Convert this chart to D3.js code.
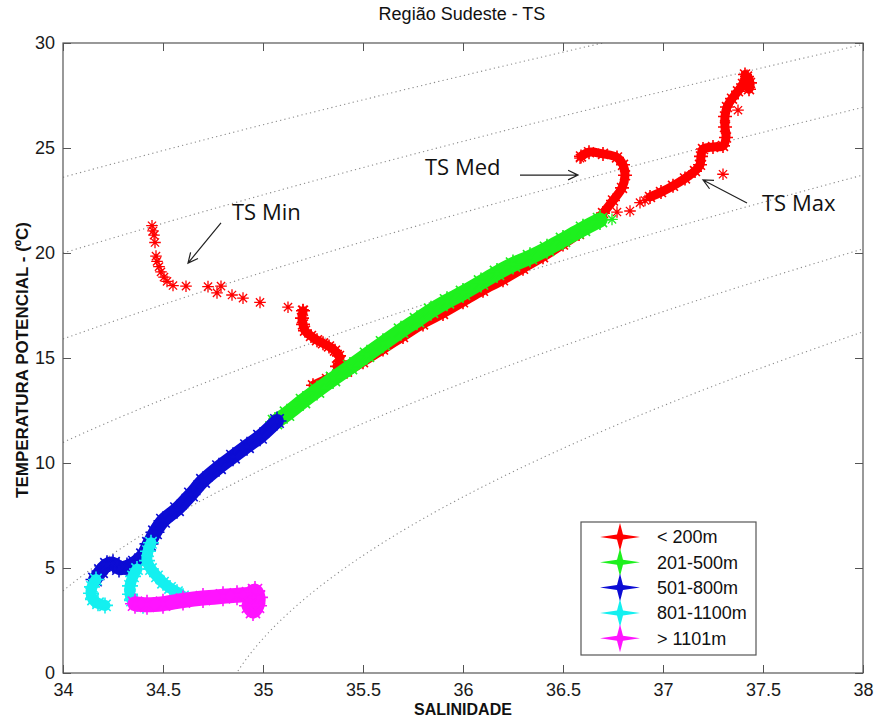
<!DOCTYPE html>
<html>
<head>
<meta charset="utf-8">
<script src="https://cdn.jsdelivr.net/npm/d3@7/dist/d3.min.js"></script>
<style>
  html, body { margin: 0; padding: 0; background: #fff; }
  svg { display: block; }
</style>
</head>
<body>
<svg id="chart" width="877" height="720"></svg>
<script>
// ---- Data: salinity / potential temperature pairs per depth class ----
const depthLabels = ["< 200m", "201-500m", "501-800m", "801-1100m", "> 1101m"];
const salTicks = [34, 34.5, 35, 35.5, 36, 36.5, 37, 37.5, 38];
const salTickLabels = ["34", "34.5", "35", "35.5", "36", "36.5", "37", "37.5", "38"];
const tempTicks = [0, 5, 10, 15, 20, 25, 30];
const tempTickLabels = ["0", "5", "10", "15", "20", "25", "30"];
const isopycnalLevels = [23, 24, 25, 26, 27, 28];

// < 200 m : dense profiles
const shallowMed = [[35.25,13.7],[35.32,14.0],[35.42,14.35],[35.5,14.8],[35.6,15.4],[35.7,16.0],[35.8,16.6],[35.9,17.1],[36.0,17.65],[36.1,18.2],[36.2,18.7],[36.3,19.25],[36.4,19.8],[36.5,20.4],[36.58,20.9],[36.65,21.4],[36.7,21.9],[36.75,22.5],[36.795,23.1],[36.81,23.7],[36.8,24.2],[36.77,24.55],[36.7,24.72],[36.63,24.8],[36.59,24.6]];
const shallowMinDeep = [[35.2,17.25],[35.195,16.9],[35.2,16.6],[35.21,16.3],[35.24,16.05],[35.27,15.85],[35.3,15.7],[35.33,15.55],[35.36,15.35],[35.38,15.1],[35.385,14.85],[35.37,14.6]];
const shallowMax = [[36.935,22.67],[36.99,22.9],[37.05,23.2],[37.11,23.55],[37.16,23.9],[37.185,24.2],[37.19,24.6],[37.2,24.95],[37.25,25.05],[37.3,25.1],[37.315,25.5],[37.31,26.0],[37.31,26.5],[37.32,26.95],[37.345,27.35],[37.375,27.7],[37.4,28.05],[37.42,28.4],[37.435,28.1],[37.43,27.8],[37.41,28.5]];
// < 200 m : isolated observations
const shallowSparse = [[34.445,21.3],[34.45,21.05],[34.455,20.85],[34.46,20.5],[34.465,19.85],[34.47,19.6],[34.48,19.35],[34.49,19.1],[34.505,18.85],[34.52,18.65],[34.55,18.45],[34.615,18.42],[34.725,18.4],[34.77,18.1],[34.79,18.42],[34.845,18.0],[34.9,17.85],[34.985,17.65],[35.125,17.42],[35.2,17.3],[36.585,24.52],[36.77,21.95],[36.835,22.0],[36.885,22.4],[36.91,22.5],[37.3,23.75],[37.375,26.8]];

// 201-500 m
const upperGreen = [[35.06,11.95],[35.12,12.35],[35.2,12.95],[35.27,13.45],[35.35,14.0],[35.435,14.57],[35.52,15.15],[35.6,15.7],[35.69,16.3],[35.77,16.8],[35.84,17.25],[35.92,17.7],[36.0,18.1],[36.09,18.6],[36.17,19.05],[36.25,19.45],[36.335,19.8],[36.42,20.2],[36.5,20.62],[36.6,21.15],[36.685,21.57]];
const upperSparse = [[36.745,21.6]];

// 501-800 m
const midBlue = [[34.16,4.45],[34.19,4.85],[34.22,5.15],[34.25,5.2],[34.28,5.0],[34.32,5.05],[34.36,5.25],[34.4,5.6],[34.43,6.15],[34.46,6.7],[34.5,7.25],[34.57,7.8],[34.64,8.5],[34.7,9.15],[34.78,9.8],[34.85,10.3],[34.92,10.8],[34.985,11.25],[35.07,12.0]];

// 801-1100 m
const deepHookA = [[34.165,4.45],[34.145,4.1],[34.14,3.8],[34.15,3.5],[34.175,3.32],[34.21,3.22]];
const deepHookB = [[34.37,4.95],[34.35,4.6],[34.335,4.15],[34.335,3.75],[34.345,3.45],[34.37,3.28],[34.4,3.2]];
const deepHookC = [[34.44,6.2],[34.425,5.8],[34.42,5.35],[34.44,4.95],[34.47,4.6],[34.5,4.3],[34.535,4.05],[34.57,3.85],[34.6,3.65]];

// > 1101 m
const abyssPink = [[34.36,3.3],[34.42,3.25],[34.5,3.3],[34.6,3.45],[34.7,3.57],[34.8,3.65],[34.87,3.7],[34.93,3.75],[34.96,3.9],[34.975,3.6],[34.97,3.2],[34.95,2.95],[34.93,3.2]];

// ---- Series table ----
const series = [
  { label: depthLabels[0], color: "#ff0000", band: 9,  profiles: [shallowMed, shallowMinDeep, shallowMax], single: shallowSparse },
  { label: depthLabels[1], color: "#1ef01e", band: 15, profiles: [upperGreen], single: upperSparse },
  { label: depthLabels[2], color: "#0c0cd4", band: 14, profiles: [midBlue], single: [] },
  { label: depthLabels[3], color: "#14f0f0", band: 11, profiles: [deepHookA, deepHookB, deepHookC], single: [] },
  { label: depthLabels[4], color: "#ff14ff", band: 15, profiles: [abyssPink], single: [] }
];

// ---- Layout ----
const svg = d3.select("#chart");
const plot = { left: 63, top: 43, right: 863, bottom: 673 };
const x = d3.scaleLinear().domain([34, 38]).range([plot.left, plot.right]);
const y = d3.scaleLinear().domain([0, 30]).range([plot.bottom, plot.top]);
const FONT = "'Liberation Sans', Arial, Helvetica, sans-serif";

svg.append("defs").append("clipPath").attr("id", "plotClip")
  .append("rect")
  .attr("x", plot.left).attr("y", plot.top)
  .attr("width", plot.right - plot.left).attr("height", plot.bottom - plot.top);

// ---- Isopycnals (sigma-theta, UNESCO 1983 density at p = 0) ----
function sigma0(S, T) {
  const t = T * 1.00024;
  const smow = 999.842594 + 6.793952e-2 * t - 9.095290e-3 * t * t + 1.001685e-4 * t ** 3
    - 1.120083e-6 * t ** 4 + 6.536332e-9 * t ** 5;
  const b = 8.24493e-1 - 4.0899e-3 * t + 7.6438e-5 * t * t - 8.2467e-7 * t ** 3 + 5.3875e-9 * t ** 4;
  const c = -5.72466e-3 + 1.0227e-4 * t - 1.6546e-6 * t * t;
  return smow + b * S + c * S ** 1.5 + 4.8314e-4 * S * S - 1000;
}
function tempOnIsopycnal(S, level) {
  let lo = -2, hi = 40;
  for (let i = 0; i < 50; i++) {
    const mid = (lo + hi) / 2;
    if (sigma0(S, mid) > level) lo = mid; else hi = mid;
  }
  return (lo + hi) / 2;
}
const salGrid = d3.range(34, 38.0001, 0.01);
const isoLine = d3.line().x(d => x(d[0])).y(d => y(d[1]));
const isoG = svg.append("g").attr("clip-path", "url(#plotClip)");
isopycnalLevels.forEach(level => {
  const pts = salGrid.map(s => [s, tempOnIsopycnal(s, level)]).filter(p => p[1] > -1 && p[1] < 31);
  isoG.append("path")
    .attr("d", isoLine(pts))
    .attr("fill", "none")
    .attr("stroke", "#8a8a8a")
    .attr("stroke-width", 1.1)
    .attr("stroke-dasharray", "1.2 3.2");
});

// ---- Scatter ----
function asterisk(r) {
  const d = r * 0.7071;
  return `M${-r},0H${r}M0,${-r}V${r}M${-d},${-d}L${d},${d}M${-d},${d}L${d},${-d}`;
}
const profileLine = d3.line().x(d => x(d[0])).y(d => y(d[1])).curve(d3.curveCatmullRom.alpha(0.5));
const dataG = svg.append("g").attr("clip-path", "url(#plotClip)");
series.forEach(sr => {
  const g = dataG.append("g");
  sr.profiles.forEach(pr => {
    g.append("path")
      .attr("d", profileLine(pr))
      .attr("fill", "none")
      .attr("stroke", sr.color)
      .attr("stroke-width", sr.band)
      .attr("stroke-linecap", "round")
      .attr("stroke-linejoin", "round");
    g.selectAll(null).data(pr).enter().append("path")
      .attr("transform", d => `translate(${x(d[0])},${y(d[1])})`)
      .attr("d", asterisk(sr.band / 2 + 2.5))
      .attr("fill", "none")
      .attr("stroke", sr.color)
      .attr("stroke-width", 1.6);
  });
  g.selectAll(null).data(sr.single).enter().append("path")
    .attr("transform", d => `translate(${x(d[0])},${y(d[1])})`)
    .attr("d", asterisk(5.8))
    .attr("fill", "none")
    .attr("stroke", sr.color)
    .attr("stroke-width", 1.3);
});

// ---- Axes ----
function styleAxis(g) {
  g.select(".domain").remove();
  g.selectAll(".tick line").attr("stroke", "#555");
  g.selectAll(".tick text").attr("fill", "#1a1a1a").style("font-family", FONT).style("font-size", "18px");
}
svg.append("g").attr("transform", `translate(0,${plot.bottom})`)
  .call(d3.axisBottom(x).tickValues(salTicks).tickFormat((d, i) => salTickLabels[i]).tickSize(-8).tickPadding(10))
  .call(styleAxis);
svg.append("g").attr("transform", `translate(0,${plot.top})`)
  .call(d3.axisTop(x).tickValues(salTicks).tickFormat("").tickSize(-8))
  .call(styleAxis);
svg.append("g").attr("transform", `translate(${plot.left},0)`)
  .call(d3.axisLeft(y).tickValues(tempTicks).tickFormat((d, i) => tempTickLabels[i]).tickSize(-8).tickPadding(8))
  .call(styleAxis);
svg.append("g").attr("transform", `translate(${plot.right},0)`)
  .call(d3.axisRight(y).tickValues(tempTicks).tickFormat("").tickSize(-8))
  .call(styleAxis);
svg.append("rect")
  .attr("x", plot.left).attr("y", plot.top)
  .attr("width", plot.right - plot.left).attr("height", plot.bottom - plot.top)
  .attr("fill", "none").attr("stroke", "#555").attr("stroke-width", 1.2);

// ---- Titles ----
svg.append("text").attr("x", 462).attr("y", 20).attr("text-anchor", "middle")
  .style("font-family", FONT).style("font-size", "18px").attr("fill", "#111")
  .text("Região Sudeste - TS");
svg.append("text").attr("x", 463).attr("y", 715).attr("text-anchor", "middle")
  .style("font-family", FONT).style("font-size", "16px").style("font-weight", "bold").attr("fill", "#111")
  .text("SALINIDADE");
svg.append("text").attr("transform", "translate(28,360) rotate(-90)").attr("text-anchor", "middle")
  .style("font-family", FONT).style("font-size", "17px").style("font-weight", "bold").attr("fill", "#111")
  .text("TEMPERATURA POTENCIAL - (ºC)");

// ---- Annotations ----
const notes = [
  { text: "TS Min", at: [34.845, 21.57], from: [34.79, 21.43], to: [34.625, 19.52] },
  { text: "TS Med", at: [35.81, 23.71], from: [36.285, 23.71], to: [36.575, 23.71] },
  { text: "TS Max", at: [37.495, 22.0], from: [37.42, 22.38], to: [37.2, 23.48] }
];
const noteG = svg.append("g");
notes.forEach(n => {
  noteG.append("text").attr("x", x(n.at[0])).attr("y", y(n.at[1]))
    .style("font-family", "'Open Sans', 'Noto Sans', sans-serif").style("font-size", "22px").attr("fill", "#111")
    .text(n.text);
  const x1 = x(n.from[0]), y1 = y(n.from[1]), x2 = x(n.to[0]), y2 = y(n.to[1]);
  const ang = Math.atan2(y2 - y1, x2 - x1), L = 11, w = 0.45;
  noteG.append("path")
    .attr("d", `M${x1},${y1}L${x2},${y2}M${x2 - L * Math.cos(ang - w)},${y2 - L * Math.sin(ang - w)}L${x2},${y2}L${x2 - L * Math.cos(ang + w)},${y2 - L * Math.sin(ang + w)}`)
    .attr("fill", "none").attr("stroke", "#222").attr("stroke-width", 1.2);
});

// ---- Legend ----
const leg = svg.append("g").attr("transform", "translate(581,522)");
leg.append("rect").attr("width", 175).attr("height", 133).attr("fill", "#fff").attr("stroke", "#555").attr("stroke-width", 1.2);
const sparkle = "M-20,0L-3,-2.5L0,-14L3,-2.5L20,0L3,2.5L0,14L-3,2.5Z";
series.forEach((sr, i) => {
  const row = leg.append("g").attr("transform", `translate(0,${15 + i * 25.3})`);
  row.append("path").attr("transform", "translate(39,0)").attr("d", sparkle).attr("fill", sr.color);
  row.append("text").attr("x", 76).attr("y", 0).attr("dy", "0.35em")
    .style("font-family", FONT).style("font-size", "18px").attr("fill", "#111")
    .text(sr.label);
});
</script>
</body>
</html>
